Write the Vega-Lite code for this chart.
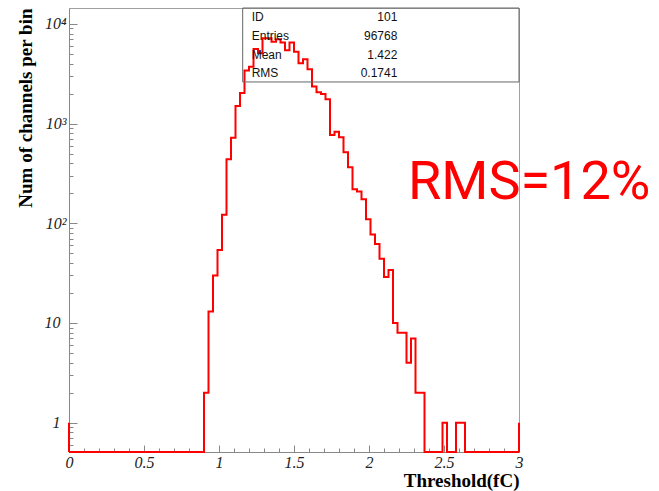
{
  "$schema": "https://vega.github.io/schema/vega-lite/v6.json",
  "width": 450,
  "height": 444,
  "autosize": {"type": "none"},
  "padding": {"left": 69, "top": 8, "right": 140, "bottom": 39},
  "background": "white",
  "config": {
    "view": {"stroke": "#a0a0a0", "strokeWidth": 1},
    "axis": {
      "domainColor": "#888888",
      "tickColor": "#888888",
      "labelFont": "Liberation Serif",
      "labelFontStyle": "italic",
      "labelFontSize": 16,
      "labelColor": "#222222",
      "titleFont": "Liberation Serif",
      "titleFontWeight": "bold",
      "titleFontSize": 19,
      "titleColor": "#000000",
      "grid": false,
      "labelOverlap": false
    }
  },
  "datasets": {
    "hist": [
      {"x": 0, "n": 0}, {"x": 0.03, "n": 0}, {"x": 0.06, "n": 0}, {"x": 0.09, "n": 0},
      {"x": 0.12, "n": 0}, {"x": 0.15, "n": 0}, {"x": 0.18, "n": 0}, {"x": 0.21, "n": 0},
      {"x": 0.24, "n": 0}, {"x": 0.27, "n": 0}, {"x": 0.3, "n": 0}, {"x": 0.33, "n": 0},
      {"x": 0.36, "n": 0}, {"x": 0.39, "n": 0}, {"x": 0.42, "n": 0}, {"x": 0.45, "n": 0},
      {"x": 0.48, "n": 0}, {"x": 0.51, "n": 0}, {"x": 0.54, "n": 0}, {"x": 0.57, "n": 0},
      {"x": 0.6, "n": 0}, {"x": 0.63, "n": 0}, {"x": 0.66, "n": 0}, {"x": 0.69, "n": 0},
      {"x": 0.72, "n": 0}, {"x": 0.75, "n": 0}, {"x": 0.78, "n": 0}, {"x": 0.81, "n": 0},
      {"x": 0.84, "n": 0}, {"x": 0.87, "n": 0}, {"x": 0.9, "n": 2}, {"x": 0.93, "n": 13},
      {"x": 0.96, "n": 30}, {"x": 0.99, "n": 54}, {"x": 1.02, "n": 122}, {"x": 1.05, "n": 440},
      {"x": 1.08, "n": 720}, {"x": 1.11, "n": 1500}, {"x": 1.14, "n": 2030}, {"x": 1.17, "n": 3400},
      {"x": 1.2, "n": 3720}, {"x": 1.23, "n": 5600}, {"x": 1.26, "n": 5070}, {"x": 1.29, "n": 7170},
      {"x": 1.32, "n": 7170}, {"x": 1.35, "n": 6630}, {"x": 1.38, "n": 7000}, {"x": 1.41, "n": 6500},
      {"x": 1.44, "n": 5430}, {"x": 1.47, "n": 6490}, {"x": 1.5, "n": 5260}, {"x": 1.53, "n": 4030},
      {"x": 1.56, "n": 4420}, {"x": 1.59, "n": 3500}, {"x": 1.62, "n": 2350}, {"x": 1.65, "n": 2060},
      {"x": 1.68, "n": 1980}, {"x": 1.71, "n": 1750}, {"x": 1.74, "n": 770}, {"x": 1.77, "n": 830},
      {"x": 1.8, "n": 730}, {"x": 1.83, "n": 515}, {"x": 1.86, "n": 365}, {"x": 1.89, "n": 219},
      {"x": 1.92, "n": 208}, {"x": 1.95, "n": 174}, {"x": 1.98, "n": 110}, {"x": 2.01, "n": 77},
      {"x": 2.04, "n": 62}, {"x": 2.07, "n": 44}, {"x": 2.1, "n": 29}, {"x": 2.13, "n": 34},
      {"x": 2.16, "n": 10}, {"x": 2.19, "n": 8}, {"x": 2.22, "n": 8}, {"x": 2.25, "n": 4},
      {"x": 2.28, "n": 7}, {"x": 2.31, "n": 2}, {"x": 2.34, "n": 2}, {"x": 2.37, "n": 0},
      {"x": 2.4, "n": 0}, {"x": 2.43, "n": 0}, {"x": 2.46, "n": 0}, {"x": 2.49, "n": 1},
      {"x": 2.52, "n": 0}, {"x": 2.55, "n": 0}, {"x": 2.58, "n": 1}, {"x": 2.61, "n": 1},
      {"x": 2.64, "n": 0}, {"x": 2.67, "n": 0}, {"x": 2.7, "n": 0}, {"x": 2.73, "n": 0},
      {"x": 2.76, "n": 0}, {"x": 2.79, "n": 0}, {"x": 2.82, "n": 0}, {"x": 2.85, "n": 0},
      {"x": 2.88, "n": 0}, {"x": 2.91, "n": 0}, {"x": 2.94, "n": 0}, {"x": 2.97, "n": 0},
      {"x": 3.0, "n": 0}
    ],
    "edges": [{"x": 0, "n": 1}, {"x": 3, "n": 1}],
    "box": [{"x": 1.158, "x2": 3, "n": 2614, "n2": 14430}],
    "stats": [
      {"name": "ID", "val": "101", "n": 11590},
      {"name": "Entries", "val": "96768", "n": 7477},
      {"name": "Mean", "val": "1.422", "n": 4875},
      {"name": "RMS", "val": "0.1741", "n": 3219}
    ],
    "note": [{"x": 2.26, "n": 256, "text": "RMS=12%"}]
  },
  "layer": [
    {
      "data": {"name": "hist"},
      "mark": {"type": "line", "interpolate": "step-after", "color": "#ff0000", "strokeWidth": 2, "invalid": "show"},
      "encoding": {
        "x": {
          "field": "x", "type": "quantitative",
          "scale": {"domain": [0, 3], "nice": false, "zero": false},
          "axis": {
            "title": "Threshold(fC)",
            "titleAnchor": "end",
            "titlePadding": -2,
            "tickCount": 200,
            "values": [0, 0.1, 0.2, 0.3, 0.4, 0.5, 0.6, 0.7, 0.8, 0.9, 1, 1.1, 1.2, 1.3, 1.4, 1.5, 1.6, 1.7, 1.8, 1.9, 2, 2.1, 2.2, 2.3, 2.4, 2.5, 2.6, 2.7, 2.8, 2.9, 3],
            "labelExpr": "indexof(['0', '0.5', '1', '1.5', '2', '2.5', '3'], '' + datum.value) >= 0 ? '' + datum.value : ''",
            "labelFlush": false,
            "labelOverlap": false,
            "labelBound": false,
            "tickSize": {"condition": {"test": "indexof([0, 0.5, 1, 1.5, 2, 2.5, 3], datum.value) >= 0", "value": -7}, "value": -4},
            "labelPadding": 9
          }
        },
        "y": {
          "field": "n", "type": "quantitative",
          "scale": {"type": "log", "domain": [0.508, 14430], "nice": false, "clamp": true},
          "axis": {
            "title": "Num of channels per bin",
            "titleAnchor": "end",
            "titlePadding": 9,
            "tickCount": 200,
            "values": [0.6, 0.7, 0.8, 0.9, 1, 2, 3, 4, 5, 6, 7, 8, 9, 10, 20, 30, 40, 50, 60, 70, 80, 90, 100, 200, 300, 400, 500, 600, 700, 800, 900, 1000, 2000, 3000, 4000, 5000, 6000, 7000, 8000, 9000, 10000],
            "labelExpr": "datum.value == 10000 ? '10⁴' : datum.value == 1000 ? '10³' : datum.value == 100 ? '10²' : datum.value == 10 ? '10' : datum.value == 1 ? '1' : ''",
            "labelOverlap": false,
            "tickSize": {"condition": {"test": "indexof([1, 10, 100, 1000, 10000], datum.value) >= 0", "value": -8}, "value": -4},
            "labelPadding": {"condition": {"test": "datum.value >= 100", "value": 11}, "value": 17}
          }
        }
      }
    },
    {
      "data": {"name": "edges"},
      "mark": {"type": "rule", "color": "#ff0000", "strokeWidth": 2},
      "encoding": {
        "x": {"field": "x", "type": "quantitative"},
        "y": {"field": "n", "type": "quantitative"},
        "y2": {"datum": 0.508}
      }
    },
    {
      "data": {"name": "box"},
      "mark": {"type": "rect", "fill": null, "fillOpacity": 0, "stroke": "#666666", "strokeWidth": 1},
      "encoding": {
        "x": {"field": "x", "type": "quantitative"},
        "x2": {"field": "x2"},
        "y": {"field": "n", "type": "quantitative"},
        "y2": {"field": "n2"}
      }
    },
    {
      "data": {"name": "stats"},
      "mark": {"type": "text", "align": "left", "baseline": "middle", "font": "Liberation Sans", "fontSize": 12, "color": "#111111"},
      "encoding": {
        "x": {"datum": 1.218},
        "y": {"field": "n", "type": "quantitative"},
        "text": {"field": "name"}
      }
    },
    {
      "data": {"name": "stats"},
      "mark": {"type": "text", "align": "right", "baseline": "middle", "font": "Liberation Sans", "fontSize": 12, "color": "#111111"},
      "encoding": {
        "x": {"datum": 2.189},
        "y": {"field": "n", "type": "quantitative"},
        "text": {"field": "val"}
      }
    },
    {
      "data": {"name": "note"},
      "mark": {"type": "text", "align": "left", "baseline": "middle", "font": "Roboto", "fontSize": 54, "color": "#ff0000"},
      "encoding": {
        "x": {"field": "x", "type": "quantitative"},
        "y": {"field": "n", "type": "quantitative"},
        "text": {"field": "text"}
      }
    }
  ]
}
